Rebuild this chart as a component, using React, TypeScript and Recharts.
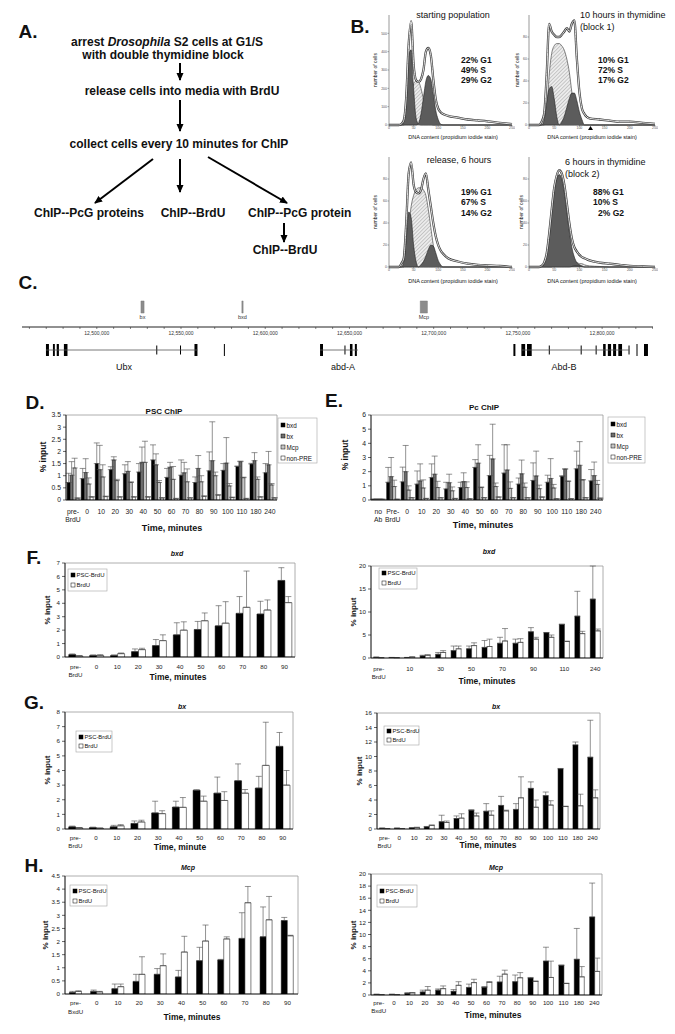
import React from 'react';
import { BarChart, Bar, XAxis, YAxis, ErrorBar, ReferenceArea, ReferenceLine, ComposedChart, Area, Line } from 'recharts';

const FONT = '"Liberation Sans", Arial, Helvetica, sans-serif';

// ---------- Panel D: PSC ChIP ----------
const dCats = ['pre-\nBrdU', '0', '10', '20', '30', '40', '50', '60', '70', '80', '90', '100', '110', '180', '240'];
const dBxd = [0.72, 0.88, 1.5, 1.25, 1.08, 1.15, 1.65, 0.93, 1.02, 0.72, 1.2, 1.22, 1.38, 1.48, 1.12];
const dBxdErr = [0.38, 0.42, 0.85, 0.12, 0.37, 0.35, 0.62, 0.37, 0.63, 0.23, 0.78, 0.28, 0.02, 0.03, 0.38];
const dBx = [1.02, 1.13, 1.25, 1.65, 1.18, 1.55, 1.45, 1.35, 1.12, 1.3, 1.62, 1.52, 1.58, 1.62, 1.45];
const dBxErr = [0.56, 0.57, 1.0, 0.13, 0.4, 0.63, 0.45, 0.2, 0.43, 0.53, 1.6, 1.05, 0.02, 0.33, 0.55];
const dMcp = [1.32, 0.66, 0.95, 0.8, 0.72, 1.55, 0.72, 0.85, 0.75, 0.75, 1.0, 0.58, 0.92, 0.85, 0.62];
const dMcpErr = [0.4, 0.25, 0.5, 0.05, 0.03, 0.87, 0.08, 0.53, 0.53, 0.25, 0.15, 0.1, 0.02, 0.1, 0.06];
const dNon = [0.07, 0.12, 0.14, 0.12, 0.12, 0.12, 0.08, 0.05, 0.08, 0.15, 0.2, 0.1, 0.05, 0.12, 0.08];
const dNonErr = [0.02, 0.02, 0.02, 0.02, 0.02, 0.02, 0.02, 0.02, 0.02, 0.02, 0.02, 0.02, 0.02, 0.02, 0.02];
const dTicks = [0, 0.5, 1, 1.5, 2, 2.5, 3, 3.5];

// ---------- Panel E: Pc ChIP ----------
const eCats = ['no\nAb', 'Pre-\nBrdU', '0', '10', '20', '30', '40', '50', '60', '70', '80', '90', '100', '110', '180', '240'];
const eBxd = [0.05, 1.25, 1.28, 1.12, 1.58, 0.78, 0.88, 2.3, 1.72, 1.9, 1.12, 1.38, 1.25, 1.68, 2.2, 1.35];
const eBxdErr = [0.01, 1.05, 1.04, 0.93, 0.97, 0.47, 0.37, 0.55, 1.43, 2.0, 0.43, 1.24, 0.5, 0.02, 1.25, 0.8];
const eBx = [0.05, 1.65, 2.0, 1.35, 1.82, 1.22, 1.3, 2.6, 2.9, 2.12, 1.85, 1.7, 1.52, 2.18, 2.45, 1.72];
const eBxErr = [0.01, 1.35, 1.85, 1.2, 1.28, 0.6, 0.62, 1.3, 2.45, 1.78, 0.97, 1.75, 1.4, 0.02, 1.67, 0.96];
const eMcp = [0.05, 0.95, 0.7, 0.85, 0.88, 0.65, 0.88, 0.88, 0.95, 0.82, 0.9, 0.8, 0.85, 1.32, 1.42, 1.1];
const eMcpErr = [0.01, 0.45, 0.3, 0.57, 0.44, 0.27, 0.4, 0.04, 0.25, 0.46, 0.3, 0.25, 0.25, 0.02, 0.02, 0.28];
const eNon = [0.05, 0.05, 0.15, 0.1, 0.15, 0.1, 0.08, 0.15, 0.2, 0.15, 0.15, 0.2, 0.08, 0.08, 0.15, 0.12];
const eNonErr = [0.01, 0.01, 0.02, 0.02, 0.02, 0.02, 0.02, 0.02, 0.02, 0.02, 0.02, 0.02, 0.02, 0.02, 0.02, 0.02];
const eTicks = [0, 1, 2, 3, 4, 5, 6];

// ---------- Panels F-H: categories ----------
const shortCats = ['pre-\nBrdU', '0', '10', '20', '30', '40', '50', '60', '70', '80', '90'];
const longCats = ['pre-\nBrdU', '0', '10', '20', '30', '40', '50', '60', '70', '80', '90', '100', '110', '180', '240'];
const shortCatsH = ['pre-\nBxdU', '0', '10', '20', '30', '40', '50', '60', '70', '80', '90'];
const longCatsH = ['pre-\nBxdU', '0', '10', '20', '30', '40', '50', '60', '70', '80', '90', '100', '110', '180', '240'];

// F left (bxd)
const fLPsc = [0.18, 0.12, 0.12, 0.4, 0.85, 1.65, 2.05, 2.32, 3.25, 3.2, 5.7];
const fLPscErr = [0.05, 0.03, 0.03, 0.2, 0.45, 0.9, 0.6, 1.5, 1.25, 0.95, 0.95];
const fLBrdu = [0.08, 0.12, 0.25, 0.55, 1.22, 2.0, 2.7, 2.52, 3.7, 3.5, 4.05];
const fLBrduErr = [0.02, 0.05, 0.05, 0.1, 0.43, 0.62, 0.58, 1.6, 2.7, 0.75, 0.45];
const fLTicks = [0, 1, 2, 3, 4, 5, 6, 7];

// F right (bxd)
const fRPsc = [0.15, 0.1, 0.1, 0.45, 0.8, 1.6, 2.0, 2.3, 3.2, 3.2, 5.7, 5.5, 7.3, 9.1, 12.8];
const fRPscErr = [0.05, 0.03, 0.03, 0.15, 0.4, 1.0, 0.6, 1.5, 1.3, 0.9, 0.9, 0.05, 0.05, 5.4, 7.2];
const fRBrdu = [0.05, 0.05, 0.2, 0.6, 1.2, 2.0, 2.7, 2.5, 3.7, 3.4, 4.1, 4.5, 3.6, 5.3, 5.9];
const fRBrduErr = [0.02, 0.02, 0.05, 0.1, 0.4, 0.6, 0.6, 1.6, 2.7, 0.8, 0.4, 0.5, 0.05, 0.5, 0.4];
const fRTicks = [0, 5, 10, 15, 20];

// G left (bx)
const gLPsc = [0.15, 0.1, 0.15, 0.38, 1.1, 1.5, 2.65, 2.45, 3.3, 2.8, 5.65];
const gLPscErr = [0.05, 0.03, 0.1, 0.17, 0.8, 0.4, 0.03, 1.1, 1.15, 0.8, 0.95];
const gLBrdu = [0.08, 0.05, 0.22, 0.48, 1.05, 1.48, 1.9, 1.95, 2.45, 4.35, 3.0];
const gLBrduErr = [0.02, 0.02, 0.08, 0.12, 0.2, 0.67, 0.35, 0.6, 0.25, 2.95, 1.0];
const gLTicks = [0, 1, 2, 3, 4, 5, 6, 7, 8];

// G right (bx)
const gRPsc = [0.1, 0.1, 0.15, 0.3, 1.0, 1.45, 2.6, 2.45, 3.25, 2.7, 5.6, 4.6, 8.3, 11.6, 9.9];
const gRPscErr = [0.03, 0.03, 0.05, 0.05, 0.9, 0.35, 0.03, 1.05, 1.25, 0.8, 0.9, 0.5, 0.05, 0.4, 5.1];
const gRBrdu = [0.05, 0.05, 0.2, 0.5, 0.9, 1.5, 1.8, 1.9, 2.5, 4.3, 3.0, 3.3, 3.1, 3.2, 4.3];
const gRBrduErr = [0.02, 0.02, 0.05, 0.05, 0.2, 0.6, 0.4, 0.6, 0.1, 2.9, 1.0, 0.6, 0.05, 1.6, 1.1];
const gRTicks = [0, 2, 4, 6, 8, 10, 12, 14, 16];

// H left (Mcp)
const hLPsc = [0.06, 0.1, 0.2, 0.48, 0.75, 0.65, 1.27, 1.3, 2.12, 2.18, 2.8];
const hLPscErr = [0.04, 0.05, 0.18, 0.27, 0.22, 0.25, 0.51, 0.02, 0.98, 1.14, 0.12];
const hLBrdu = [0.1, 0.08, 0.28, 0.75, 1.08, 1.6, 2.02, 2.1, 3.48, 2.83, 2.22];
const hLBrduErr = [0.02, 0.02, 0.1, 0.67, 0.45, 0.6, 0.61, 0.08, 0.62, 0.89, 0.02];
const hLTicks = [0, 0.5, 1, 1.5, 2, 2.5, 3, 3.5, 4, 4.5];

// H right (Mcp)
const hRPsc = [0.1, 0.1, 0.3, 0.5, 0.8, 0.6, 1.25, 1.3, 2.15, 2.2, 2.8, 5.6, 4.9, 5.9, 12.9];
const hRPscErr = [0.03, 0.03, 0.05, 0.3, 0.2, 0.3, 0.55, 0.05, 0.95, 1.1, 0.1, 2.3, 0.05, 5.1, 5.6];
const hRBrdu = [0.05, 0.05, 0.35, 0.8, 1.05, 1.6, 2.05, 2.1, 3.45, 2.85, 2.25, 2.9, 1.9, 3.0, 3.9];
const hRBrduErr = [0.02, 0.02, 0.05, 0.6, 0.45, 0.6, 0.55, 0.1, 0.65, 0.85, 0.05, 2.7, 0.05, 1.7, 2.2];
const hRTicks = [0, 2, 4, 6, 8, 10, 12, 14, 16, 18, 20];

// ---------- Panel B: flow cytometry histograms ----------
const bX = [0, 20, 25, 30, 35, 40, 45, 50, 55, 60, 65, 70, 75, 80, 85, 90, 95, 100, 105, 110, 120, 140, 160, 180, 200, 225, 250];
const bTicksX = [0, 50, 100, 150, 200, 250];
// starting population
const b1Total = [0, 0, 5, 25, 150, 440, 565, 330, 245, 235, 250, 300, 400, 420, 380, 250, 140, 90, 70, 60, 50, 40, 30, 25, 20, 12, 5];
const b1G1 = [0, 0, 0, 20, 120, 380, 410, 200, 40, 5, 0, 0, 0, 0, 0, 0, 0, 0, 0, 0, 0, 0, 0, 0, 0, 0, 0];
const b1S = [0, 0, 0, 0, 20, 80, 170, 225, 240, 235, 200, 140, 80, 40, 10, 0, 0, 0, 0, 0, 0, 0, 0, 0, 0, 0, 0];
const b1G2 = [0, 0, 0, 0, 0, 0, 0, 0, 0, 10, 60, 150, 240, 270, 250, 170, 80, 30, 5, 0, 0, 0, 0, 0, 0, 0, 0];
// 10 hours in thymidine
const b2Total = [0, 0, 3, 10, 45, 92, 85, 82, 80, 80, 82, 85, 88, 85, 92, 95, 60, 30, 15, 10, 6, 5, 4, 3, 3, 2, 1];
const b2G1 = [0, 0, 0, 5, 20, 33, 35, 24, 8, 0, 0, 0, 0, 0, 0, 0, 0, 0, 0, 0, 0, 0, 0, 0, 0, 0, 0];
const b2S = [0, 0, 0, 0, 10, 45, 65, 72, 74, 74, 72, 68, 60, 48, 30, 15, 5, 0, 0, 0, 0, 0, 0, 0, 0, 0, 0];
const b2G2 = [0, 0, 0, 0, 0, 0, 0, 0, 0, 0, 3, 8, 16, 24, 29, 29, 22, 12, 5, 0, 0, 0, 0, 0, 0, 0, 0];
// release, 6 hours
const b3Total = [0, 0, 3, 8, 40, 85, 95, 75, 68, 67, 70, 80, 85, 70, 55, 40, 28, 20, 15, 12, 8, 5, 3, 2, 1.5, 1, 0];
const b3G1 = [0, 0, 0, 5, 25, 50, 45, 20, 5, 0, 0, 0, 0, 0, 0, 0, 0, 0, 0, 0, 0, 0, 0, 0, 0, 0, 0];
const b3S = [0, 0, 0, 0, 10, 35, 55, 65, 70, 72, 72, 70, 65, 52, 36, 20, 8, 2, 0, 0, 0, 0, 0, 0, 0, 0, 0];
const b3G2 = [0, 0, 0, 0, 0, 0, 0, 0, 0, 0, 2, 5, 10, 16, 20, 19, 13, 6, 2, 0, 0, 0, 0, 0, 0, 0, 0];
// 6 hours in thymidine
const b4Total = [0, 0, 1, 4, 12, 30, 52, 72, 83, 88, 85, 75, 58, 40, 26, 18, 14, 11, 9, 8, 6, 4, 3, 2, 1, 0.5, 0];
const b4G1 = [0, 0, 1, 4, 12, 28, 50, 70, 80, 84, 80, 68, 50, 32, 18, 9, 4, 2, 1, 0, 0, 0, 0, 0, 0, 0, 0];
const b4S = [0, 0, 0, 0, 0, 0, 0, 1, 1, 2, 2, 3, 3, 4, 4, 4, 4, 3, 3, 2, 1, 0.5, 0, 0, 0, 0, 0];
const b4G2 = [0, 0, 0, 0, 0, 0, 0, 0, 0, 0, 0, 0, 0, 0, 0.5, 1, 1, 0.8, 0.4, 0, 0, 0, 0, 0, 0, 0, 0];

// ---------- Panel C: genomic map ----------
const cDomain = [12455600, 12830200];
const cMajorTicks = [12500000, 12550000, 12600000, 12650000, 12700000, 12750000, 12800000];
const preNames = ['bx', 'bxd', 'Mcp'];
const preStarts = [12526200, 12586100, 12692000];
const preEnds = [12528100, 12586900, 12696300];
const geneNames = ['Ubx', 'abd-A', 'Abd-B'];
const geneStarts = [12469823, 12632541, 12752064];
const geneEnds = [12559762, 12655025, 12815968];
const exonStarts = [12469823, 12473965, 12476200, 12480474, 12535300, 12549400, 12557987, 12575450, 12632541, 12647033, 12650292, 12653200, 12747331, 12752064, 12755400, 12768332, 12787266, 12796142, 12800584, 12803400, 12806501, 12809600, 12815668, 12820401, 12824843];
const exonEnds = [12471598, 12475100, 12477515, 12482600, 12535900, 12550000, 12559762, 12576050, 12634308, 12647633, 12651800, 12654400, 12748514, 12754300, 12758200, 12768932, 12787866, 12796742, 12802100, 12805317, 12808300, 12811826, 12816268, 12821001, 12827210];
const exonThin = [0, 0, 0, 0, 1, 1, 0, 0, 0, 1, 0, 0, 0, 0, 0, 1, 1, 1, 0, 0, 0, 0, 1, 0, 0];

// ---------- helpers ----------
type Series = { name: string; values: number[]; errs: number[]; fill: string };

function CatTick(props: any) {
  const { x, y, payload, fs, l1, lg } = props;
  const lines = String(payload.value).split('\n');
  return (
    <g>
      {lines.map((t: string, i: number) => (
        <text key={i} x={x} y={y + l1 + i * lg} textAnchor="middle" dominantBaseline="central" fontSize={fs} fontFamily={FONT} fill="#1a1a1a">{t}</text>
      ))}
    </g>
  );
}

function BarPanel(p: { cats: string[]; series: Series[]; ymax: number; ticks: number[]; L: number; R: number; T: number; B: number; fs: number; l1: number; lg: number; interval?: number; gap?: string }) {
  const yw = 26;
  const chartLeft = p.L - yw;
  const top = p.T - 6;
  const xH = 26;
  const w = p.R - chartLeft + 3;
  const h = p.B - top + xH;
  const rows = p.cats.map((c, i) => {
    const r: any = { cat: c };
    p.series.forEach((s, k) => {
      r['v' + k] = s.values[i];
      r['e' + k] = [0, s.errs[i]];
    });
    return r;
  });
  return (
    <div style={{ position: 'absolute', left: chartLeft, top, width: w, height: h }}>
      <BarChart width={w} height={h} data={rows} margin={{ top: 6, right: 3, left: 0, bottom: 0 }} barCategoryGap={p.gap || '18%'} barGap={0}>
        <ReferenceArea y1={0} y2={p.ymax} fill="none" stroke="#9a9a9a" strokeWidth={0.8} ifOverflow="visible" />
        <XAxis dataKey="cat" height={xH} interval={p.interval ?? 0} tickLine={false} tickSize={0} tickMargin={0}
          axisLine={{ stroke: '#000', strokeWidth: 0.8 }} tick={<CatTick fs={p.fs} l1={p.l1} lg={p.lg} />} />
        <YAxis width={yw} domain={[0, p.ymax]} ticks={p.ticks} allowDataOverflow interval={0}
          tick={{ fontSize: p.fs, fill: '#1a1a1a', fontFamily: FONT }} tickSize={3} tickMargin={2}
          axisLine={{ stroke: '#000', strokeWidth: 0.8 }} tickLine={{ stroke: '#000', strokeWidth: 0.6 }} />
        {p.series.map((s, k) => (
          <Bar key={k} dataKey={'v' + k} fill={s.fill} stroke="#000" strokeWidth={0.5} isAnimationActive={false}>
            <ErrorBar dataKey={'e' + k} width={3} stroke="#4a4a4a" strokeWidth={0.6} direction="y" />
          </Bar>
        ))}
      </BarChart>
    </div>
  );
}

function Histo(p: { id: string; total: number[]; g1: number[]; s: number[]; g2: number[]; ymax: number; yt: number[]; L: number; R: number; T: number; B: number }) {
  const rows = bX.map((x, i) => ({ x, total: p.total[i], g1: p.g1[i], s: p.s[i], g2: p.g2[i] }));
  const yw = 9, xh = 8;
  const left = p.L - yw, top = p.T - 3, w = p.R - left + 3, h = p.B - top + xh;
  return (
    <div style={{ position: 'absolute', left, top, width: w, height: h }}>
      <ComposedChart width={w} height={h} data={rows} margin={{ top: 3, right: 3, left: 0, bottom: 0 }}>
        <defs>
          <pattern id={p.id} patternUnits="userSpaceOnUse" width={2.6} height={2.6} patternTransform="rotate(45)">
            <rect width={2.6} height={2.6} fill="#ececec" />
            <line x1={0} y1={0} x2={0} y2={2.6} stroke="#8f8f8f" strokeWidth={0.8} />
          </pattern>
        </defs>
        <XAxis dataKey="x" type="number" domain={[0, 250]} ticks={bTicksX} height={xh} interval={0}
          tick={{ fontSize: 3.5, fill: '#555', fontFamily: FONT }} tickSize={1.5} tickMargin={0.5}
          axisLine={{ stroke: '#555', strokeWidth: 0.6 }} tickLine={{ stroke: '#555', strokeWidth: 0.5 }} />
        <YAxis domain={[0, p.ymax]} ticks={p.yt} width={yw} interval={0}
          tick={{ fontSize: 3.5, fill: '#555', fontFamily: FONT }} tickSize={1.5} tickMargin={0.5}
          axisLine={{ stroke: '#555', strokeWidth: 0.6 }} tickLine={{ stroke: '#555', strokeWidth: 0.5 }} />
        <Area dataKey="s" type="monotone" fill={`url(#${p.id})`} fillOpacity={1} stroke="#333" strokeWidth={0.6} isAnimationActive={false} />
        <Area dataKey="g1" type="monotone" fill="#5c5c5c" fillOpacity={1} stroke="#222" strokeWidth={0.6} isAnimationActive={false} />
        <Area dataKey="g2" type="monotone" fill="#5c5c5c" fillOpacity={1} stroke="#222" strokeWidth={0.6} isAnimationActive={false} />
        <Line dataKey="total" type="monotone" stroke="#3a3a3a" strokeWidth={2.3} dot={false} isAnimationActive={false} />
        <Line dataKey="total" type="monotone" stroke="#f2f2f2" strokeWidth={0.9} dot={false} isAnimationActive={false} />
      </ComposedChart>
    </div>
  );
}

function GeneMap() {
  const minorTicks: number[] = [];
  for (let v = 12460000; v <= 12830000; v += 10000) minorTicks.push(v);
  // two invisible anchor points give both axes a domain
  const rows = [{ x: cDomain[0], y: 0 }, { x: cDomain[1], y: 10 }];
  const fmt = (v: number) => (cMajorTicks.includes(v) ? v.toLocaleString('en-US') : '');
  return (
    <>
      <div style={{ position: 'absolute', left: 22, top: 296, width: 631, height: 46 }}>
        <ComposedChart width={631} height={46} data={rows} margin={{ top: 0, right: 0, left: 0, bottom: 0 }}>
          <XAxis dataKey="x" type="number" domain={cDomain} ticks={minorTicks} interval={0} allowDataOverflow height={15}
            tickFormatter={fmt} tick={{ fontSize: 5, fill: '#333', fontFamily: FONT }} tickSize={2} tickMargin={2}
            axisLine={{ stroke: '#222', strokeWidth: 1 }} tickLine={{ stroke: '#333', strokeWidth: 0.6 }} />
          <YAxis hide type="number" domain={[0, 10]} allowDataOverflow />
          <Line dataKey="y" stroke="none" dot={false} activeDot={false} isAnimationActive={false} />
          {preNames.map((n, i) => (
            <ReferenceArea key={n} x1={preStarts[i]} x2={preEnds[i]} y1={4.5} y2={8.4} fill="#8c8c8c" fillOpacity={1} stroke="#7a7a7a" strokeWidth={0.4}
              ifOverflow="visible" label={{ value: n, position: 'bottom', offset: 2.5, fontSize: 5.5, fill: '#333', fontFamily: FONT }} />
          ))}
        </ComposedChart>
      </div>
      <div style={{ position: 'absolute', left: 22, top: 340, width: 631, height: 20 }}>
        <ComposedChart width={631} height={20} data={rows} margin={{ top: 0, right: 0, left: 0, bottom: 0 }}>
          <XAxis hide dataKey="x" type="number" domain={cDomain} allowDataOverflow />
          <YAxis hide type="number" domain={[0, 10]} allowDataOverflow />
          <Line dataKey="y" stroke="none" dot={false} activeDot={false} isAnimationActive={false} />
          {geneNames.map((n, i) => (
            <ReferenceLine key={n} segment={[{ x: geneStarts[i], y: 5 }, { x: geneEnds[i], y: 5 }]} stroke="#555" strokeWidth={0.8} ifOverflow="visible" />
          ))}
          {exonStarts.map((s, i) => (
            <ReferenceArea key={i} x1={s} x2={exonEnds[i]} y1={exonThin[i] ? 2.8 : 2} y2={exonThin[i] ? 7.2 : 8} fill="#000" fillOpacity={1}
              stroke="none" ifOverflow="visible" />
          ))}
        </ComposedChart>
      </div>
    </>
  );
}

function Txt(p: { x: number; y: number; fs: number; children: any; anchor?: string; weight?: string; italic?: boolean; rot?: number; fill?: string }) {
  return (
    <text x={p.x} y={p.y} fontSize={p.fs} fontFamily={FONT} textAnchor={(p.anchor || 'middle') as any} dominantBaseline="central"
      fontWeight={p.weight || 'normal'} fontStyle={p.italic ? 'italic' : 'normal'} fill={p.fill || '#111'}
      transform={p.rot ? `rotate(${p.rot} ${p.x} ${p.y})` : undefined}>{p.children}</text>
  );
}

function LegendBox(p: { x: number; y: number; w: number; h: number; names: string[]; fills: string[]; rows: number[]; fs: number }) {
  return (
    <g>
      <rect x={p.x} y={p.y} width={p.w} height={p.h} fill="#fff" stroke="#a5a5a5" strokeWidth={0.6} />
      {p.names.map((n, i) => (
        <g key={n}>
          <rect x={p.x + 3} y={p.rows[i] - 2} width={4} height={4} fill={p.fills[i]} stroke="#000" strokeWidth={0.5} />
          <text x={p.x + 8.5} y={p.rows[i]} dominantBaseline="central" fontSize={p.fs} fontFamily={FONT} fill="#111">{n}</text>
        </g>
      ))}
    </g>
  );
}

const BLACK = '#000000';
const WHITE = '#ffffff';
const BXC = '#6e6e6e';
const MCPC = '#c6c6c6';

export default function App() {
  const ser4 = (a: number[], ae: number[], b: number[], be: number[], c: number[], ce: number[], d: number[], de: number[]): Series[] => [
    { name: 'bxd', values: a, errs: ae, fill: BLACK },
    { name: 'bx', values: b, errs: be, fill: BXC },
    { name: 'Mcp', values: c, errs: ce, fill: MCPC },
    { name: 'non-PRE', values: d, errs: de, fill: WHITE },
  ];
  const ser2 = (a: number[], ae: number[], b: number[], be: number[]): Series[] => [
    { name: 'PSC-BrdU', values: a, errs: ae, fill: BLACK },
    { name: 'BrdU', values: b, errs: be, fill: WHITE },
  ];
  const leg4 = ['bxd', 'bx', 'Mcp', 'non-PRE'];
  const leg4f = [BLACK, BXC, MCPC, WHITE];
  const leg2 = ['PSC-BrdU', 'BrdU'];
  const leg2f = [BLACK, WHITE];
  const arrow = (x1: number, y1: number, x2: number, y2: number, k: string) => (
    <line key={k} x1={x1} y1={y1} x2={x2} y2={y2} stroke="#000" strokeWidth={2} markerEnd="url(#ah)" />
  );
  const AF = 12;

  return (
    <div style={{ position: 'absolute', left: 0, top: 0, width: 675, height: 1034, background: '#fff', overflow: 'hidden' }}>
      {/* Panel B histograms */}
      <Histo id="h1" total={b1Total} g1={b1G1} s={b1S} g2={b1G2} ymax={600} yt={[0, 100, 200, 300, 400, 500]} L={389} R={512} T={15} B={125} />
      <Histo id="h2" total={b2Total} g1={b2G1} s={b2S} g2={b2G2} ymax={100} yt={[0, 20, 40, 60, 80]} L={529} R={655} T={15} B={125} />
      <Histo id="h3" total={b3Total} g1={b3G1} s={b3S} g2={b3G2} ymax={100} yt={[0, 20, 40, 60, 80]} L={389} R={512} T={157} B={267} />
      <Histo id="h4" total={b4Total} g1={b4G1} s={b4S} g2={b4G2} ymax={100} yt={[0, 20, 40, 60, 80]} L={529} R={655} T={157} B={267} />

      {/* Panel C */}
      <GeneMap />

      {/* Panels D - H */}
      <BarPanel cats={dCats} series={ser4(dBxd, dBxdErr, dBx, dBxErr, dMcp, dMcpErr, dNon, dNonErr)} ymax={3.5} ticks={dTicks}
        L={66} R={277} T={415} B={500} fs={6.8} l1={11} lg={8.5} gap="8%" />
      <BarPanel cats={eCats} series={ser4(eBxd, eBxdErr, eBx, eBxErr, eMcp, eMcpErr, eNon, eNonErr)} ymax={6} ticks={eTicks}
        L={371} R={603} T={415} B={500} fs={6.8} l1={11} lg={8.5} gap="8%" />
      <BarPanel cats={shortCats} series={ser2(fLPsc, fLPscErr, fLBrdu, fLBrduErr)} ymax={7} ticks={fLTicks}
        L={65} R={295} T={563} B={657} fs={6.2} l1={9} lg={8} />
      <BarPanel cats={longCats} series={ser2(fRPsc, fRPscErr, fRBrdu, fRBrduErr)} ymax={20} ticks={fRTicks}
        L={371} R={603} T={566} B={658} fs={6.2} l1={10} lg={8} interval={1} />
      <BarPanel cats={shortCats} series={ser2(gLPsc, gLPscErr, gLBrdu, gLBrduErr)} ymax={8} ticks={gLTicks}
        L={65} R={293} T={712} B={829} fs={6.2} l1={8} lg={8} />
      <BarPanel cats={longCats} series={ser2(gRPsc, gRPscErr, gRBrdu, gRBrduErr)} ymax={16} ticks={gRTicks}
        L={377} R={600} T={713} B={829} fs={6.2} l1={8} lg={8} />
      <BarPanel cats={shortCatsH} series={ser2(hLPsc, hLPscErr, hLBrdu, hLBrduErr)} ymax={4.5} ticks={hLTicks}
        L={65} R={298} T={876} B={994} fs={6.2} l1={8} lg={9} gap="21%" />
      <BarPanel cats={longCatsH} series={ser2(hRPsc, hRPscErr, hRBrdu, hRBrduErr)} ymax={20} ticks={hRTicks}
        L={371} R={602} T={874} B={995} fs={6.2} l1={7} lg={8} gap="20%" />

      {/* Overlay: text, legends, flow diagram */}
      <svg width={675} height={1034} style={{ position: 'absolute', left: 0, top: 0, pointerEvents: 'none' }}>
        <defs>
          <marker id="ah" markerUnits="userSpaceOnUse" markerWidth={8} markerHeight={8} refX={7} refY={4} orient="auto">
            <path d="M0,0.5 L8,4 L0,7.5 z" fill="#000" />
          </marker>
        </defs>

        {/* Panel A */}
        <Txt x={28} y={31} fs={19} weight="bold">A.</Txt>
        <text x={167} y={42} fontSize={AF} fontFamily={FONT} fontWeight="bold" textAnchor="middle" dominantBaseline="central" fill="#111">
          arrest <tspan fontStyle="italic">Drosophila</tspan> S2 cells at G1/S
        </text>
        <Txt x={163} y={55} fs={AF} weight="bold">with double thymidine block</Txt>
        <Txt x={182} y={91} fs={AF} weight="bold">release cells into media with BrdU</Txt>
        <Txt x={179} y={144} fs={AF} weight="bold">collect cells every 10 minutes for ChIP</Txt>
        <Txt x={89} y={213} fs={AF} weight="bold">ChIP--PcG proteins</Txt>
        <Txt x={193} y={213} fs={AF} weight="bold">ChIP--BrdU</Txt>
        <Txt x={248} y={213} fs={AF} weight="bold" anchor="start">ChIP--PcG protein</Txt>
        <Txt x={285} y={250} fs={AF} weight="bold">ChIP--BrdU</Txt>
        {arrow(180, 63, 180, 80, 'a1')}
        {arrow(180, 100, 180, 131, 'a2')}
        {arrow(153, 159, 95, 203, 'a3')}
        {arrow(180, 159, 180, 192, 'a4')}
        {arrow(208, 157, 287, 203, 'a5')}
        {arrow(284, 223, 284, 242, 'a6')}

        {/* Panel B */}
        <Txt x={360} y={26} fs={19} weight="bold">B.</Txt>
        <Txt x={453} y={15} fs={9}>starting population</Txt>
        <Txt x={580} y={15} fs={9} anchor="start">10 hours in thymidine</Txt>
        <Txt x={580} y={27} fs={9} anchor="start">(block 1)</Txt>
        <Txt x={459} y={160} fs={9}>release, 6 hours</Txt>
        <Txt x={565} y={162} fs={9} anchor="start">6 hours in thymidine</Txt>
        <Txt x={565} y={174} fs={9} anchor="start">(block 2)</Txt>
        <Txt x={461} y={60} fs={8.5} weight="bold" anchor="start">22% G1</Txt>
        <Txt x={461} y={70} fs={8.5} weight="bold" anchor="start">49% S</Txt>
        <Txt x={461} y={80} fs={8.5} weight="bold" anchor="start">29% G2</Txt>
        <Txt x={598} y={60} fs={8.5} weight="bold" anchor="start">10% G1</Txt>
        <Txt x={598} y={70} fs={8.5} weight="bold" anchor="start">72% S</Txt>
        <Txt x={598} y={80} fs={8.5} weight="bold" anchor="start">17% G2</Txt>
        <Txt x={461} y={192} fs={8.5} weight="bold" anchor="start">19% G1</Txt>
        <Txt x={461} y={202} fs={8.5} weight="bold" anchor="start">67% S</Txt>
        <Txt x={461} y={213} fs={8.5} weight="bold" anchor="start">14% G2</Txt>
        <Txt x={593} y={192} fs={8.5} weight="bold" anchor="start">88% G1</Txt>
        <Txt x={593} y={202} fs={8.5} weight="bold" anchor="start">10% S</Txt>
        <Txt x={598} y={213} fs={8.5} weight="bold" anchor="start">2% G2</Txt>
        <Txt x={453} y={137} fs={5.5}>DNA content (propidium iodide stain)</Txt>
        <Txt x={592} y={137} fs={5.5}>DNA content (propidium iodide stain)</Txt>
        <Txt x={453} y={281} fs={5.5}>DNA content (propidium iodide stain)</Txt>
        <Txt x={592} y={281} fs={5.5}>DNA content (propidium iodide stain)</Txt>
        <Txt x={375} y={70} fs={5} rot={-90}>number of cells</Txt>
        <Txt x={517} y={70} fs={5} rot={-90}>number of cells</Txt>
        <Txt x={375} y={212} fs={5} rot={-90}>number of cells</Txt>
        <Txt x={521} y={212} fs={5} rot={-90}>number of cells</Txt>
        <path d="M588,130 L590.5,126 L593,130 z" fill="#000" />

        {/* Panel C */}
        <Txt x={28} y={282} fs={19} weight="bold">C.</Txt>
        <Txt x={124} y={367} fs={9}>Ubx</Txt>
        <Txt x={343} y={367} fs={9}>abd-A</Txt>
        <Txt x={564} y={367} fs={9}>Abd-B</Txt>

        {/* Panel D / E */}
        <Txt x={35} y={402} fs={19} weight="bold">D.</Txt>
        <Txt x={164} y={411} fs={8} weight="bold">PSC ChIP</Txt>
        <Txt x={43} y={457} fs={8.5} weight="bold" rot={-90}>% input</Txt>
        <Txt x={172} y={528} fs={9} weight="bold">Time, minutes</Txt>
        <LegendBox x={278} y={418} w={39} h={45} names={leg4} fills={leg4f} rows={[425, 436, 447, 458]} fs={6.3} />

        <Txt x={334} y={400} fs={19} weight="bold">E.</Txt>
        <Txt x={484} y={407} fs={8} weight="bold">Pc ChIP</Txt>
        <Txt x={345} y={455} fs={8.5} weight="bold" rot={-90}>% input</Txt>
        <Txt x={483} y={525} fs={9} weight="bold">Time, minutes</Txt>
        <LegendBox x={608} y={417} w={37} h={46} names={leg4} fills={leg4f} rows={[424, 435, 446, 457]} fs={6.3} />

        {/* Panel F */}
        <Txt x={34} y={557} fs={19} weight="bold">F.</Txt>
        <Txt x={177} y={553} fs={7} weight="bold" italic>bxd</Txt>
        <Txt x={47} y={610} fs={8} weight="bold" rot={-90}>% input</Txt>
        <Txt x={178} y={677} fs={8.5} weight="bold">Time, minutes</Txt>
        <LegendBox x={68} y={569} w={39} h={22} names={leg2} fills={leg2f} rows={[575, 585]} fs={6} />

        <Txt x={489} y={551} fs={7} weight="bold" italic>bxd</Txt>
        <Txt x={353} y={612} fs={8} weight="bold" rot={-90}>% input</Txt>
        <Txt x={487} y={681} fs={8.5} weight="bold">Time, minutes</Txt>
        <LegendBox x={379} y={568} w={38} h={21} names={leg2} fills={leg2f} rows={[573, 583]} fs={6} />

        {/* Panel G */}
        <Txt x={34} y={702} fs={19} weight="bold">G.</Txt>
        <Txt x={182} y={706} fs={7} weight="bold" italic>bx</Txt>
        <Txt x={47} y={770} fs={8} weight="bold" rot={-90}>% input</Txt>
        <Txt x={180} y={847} fs={8.5} weight="bold">Time, minute</Txt>
        <LegendBox x={76} y={731} w={36} h={21} names={leg2} fills={leg2f} rows={[737, 746]} fs={5.8} />

        <Txt x={496} y={706} fs={7} weight="bold" italic>bx</Txt>
        <Txt x={359} y={771} fs={8} weight="bold" rot={-90}>% input</Txt>
        <Txt x={488} y={845} fs={8.5} weight="bold">Time, minutes</Txt>
        <LegendBox x={384} y={726} w={35} h={19} names={leg2} fills={leg2f} rows={[731, 740]} fs={5.8} />

        {/* Panel H */}
        <Txt x={34} y={865} fs={19} weight="bold">H.</Txt>
        <Txt x={188} y={867} fs={7} weight="bold" italic>Mcp</Txt>
        <Txt x={45} y={935} fs={8} weight="bold" rot={-90}>% input</Txt>
        <Txt x={192} y={1017} fs={8.5} weight="bold">Time, minutes</Txt>
        <LegendBox x={70} y={885} w={37} h={21} names={leg2} fills={leg2f} rows={[891, 901]} fs={6} />

        <Txt x={496} y={867} fs={7} weight="bold" italic>Mcp</Txt>
        <Txt x={353} y={935} fs={8} weight="bold" rot={-90}>% input</Txt>
        <Txt x={493} y={1015} fs={8.5} weight="bold">Time, minutes</Txt>
        <LegendBox x={377} y={885} w={40} h={22} names={leg2} fills={leg2f} rows={[891, 901]} fs={6} />
      </svg>
    </div>
  );
}
